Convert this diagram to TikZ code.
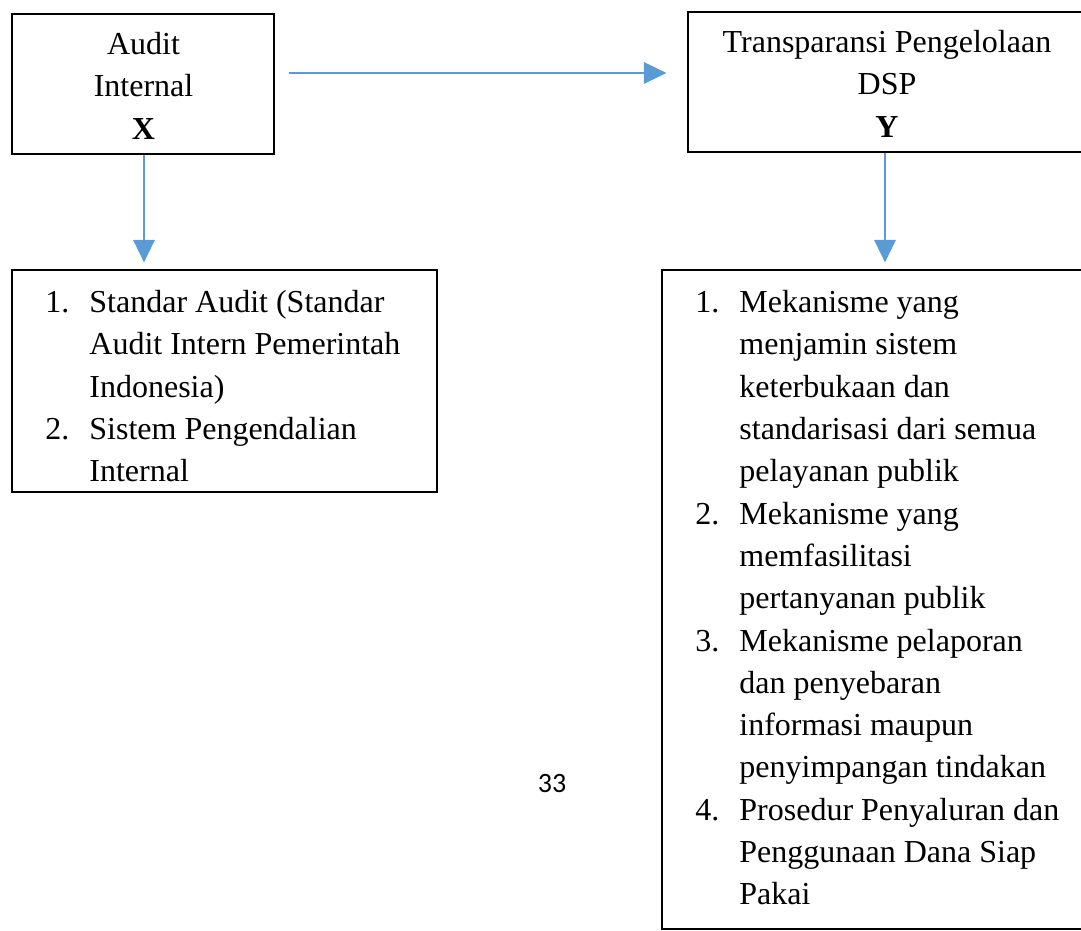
\documentclass[tikz,border=0pt]{standalone}
\usepackage{fontspec}
\setmainfont{Liberation Serif}
\newfontfamily\pagefont{Carlito}
\usetikzlibrary{arrows.meta,positioning}
\definecolor{arrowblue}{HTML}{5B9BD5}
\newcommand{\itm}[1]{\makebox[22pt][l]{#1.}}
\newcommand{\ind}{\hspace*{22pt}}
\begin{document}
\begin{tikzpicture}[x=0.5pt,y=-0.5pt,
    box/.style={draw,line width=0.6pt,inner sep=0pt},
    txt/.style={font=\fontsize{16}{21.15}\selectfont,inner sep=0pt},
    arr/.style={draw=arrowblue,line width=0.75pt,-{Triangle[length=11.25pt,width=10.75pt]}}]
  \useasboundingbox (0,0) rectangle (1081,931);
  \clip (0,0) rectangle (1081,931);
  % variable boxes
  \node [box,minimum width=131pt,minimum height=70pt] (boxX) at (143,84) {};
  \node [txt,align=center,anchor=north] (textX) at (143.5,32) {Audit\\Internal\\\textbf{X}};
  \node [box,minimum width=199pt,minimum height=70pt] (boxY) at (887,82) {};
  \node [txt,align=center,anchor=north] (textY) at (887,30) {Transparansi Pengelolaan\\DSP\\\textbf{Y}};
  % indicator boxes
  \node [box,minimum width=212.5pt,minimum height=111pt] (listX) at (224.5,381) {};
  \node [txt,align=left,anchor=north west] (itemsX) at (45,290) {%
    \itm{1}Standar Audit (Standar\\
    \ind Audit Intern Pemerintah\\
    \ind Indonesia)\\
    \itm{2}Sistem Pengendalian\\
    \ind Internal};
  \node [box,minimum width=219pt,minimum height=329.5pt] (listY) at (881,599.5) {};
  \node [txt,align=left,anchor=north west] (itemsY) at (695,290) {%
    \itm{1}Mekanisme yang\\
    \ind menjamin sistem\\
    \ind keterbukaan dan\\
    \ind standarisasi dari semua\\
    \ind pelayanan publik\\
    \itm{2}Mekanisme yang\\
    \ind memfasilitasi\\
    \ind pertanyanan publik\\
    \itm{3}Mekanisme pelaporan\\
    \ind dan penyebaran\\
    \ind informasi maupun\\
    \ind penyimpangan tindakan\\
    \itm{4}Prosedur Penyaluran dan\\
    \ind Penggunaan Dana Siap\\
    \ind Pakai};
  % page number
  \node [font=\pagefont\fontsize{14}{16}\selectfont,inner sep=0pt] (pagenum) at (552,784) {33};
  % connectors
  \draw [arr,shorten <=7pt,shorten >=10.5pt] (boxX.east |- 0,73) -- (boxY.west |- 0,73);
  \draw [arr,shorten >=3.5pt] ([xshift=0.5pt]boxX.south) -- ([xshift=0.5pt]boxX.south |- listX.north);
  \draw [arr,shorten >=3.5pt] ([xshift=-1pt]boxY.south) -- ([xshift=-1pt]boxY.south |- listY.north);
\end{tikzpicture}
\end{document}
